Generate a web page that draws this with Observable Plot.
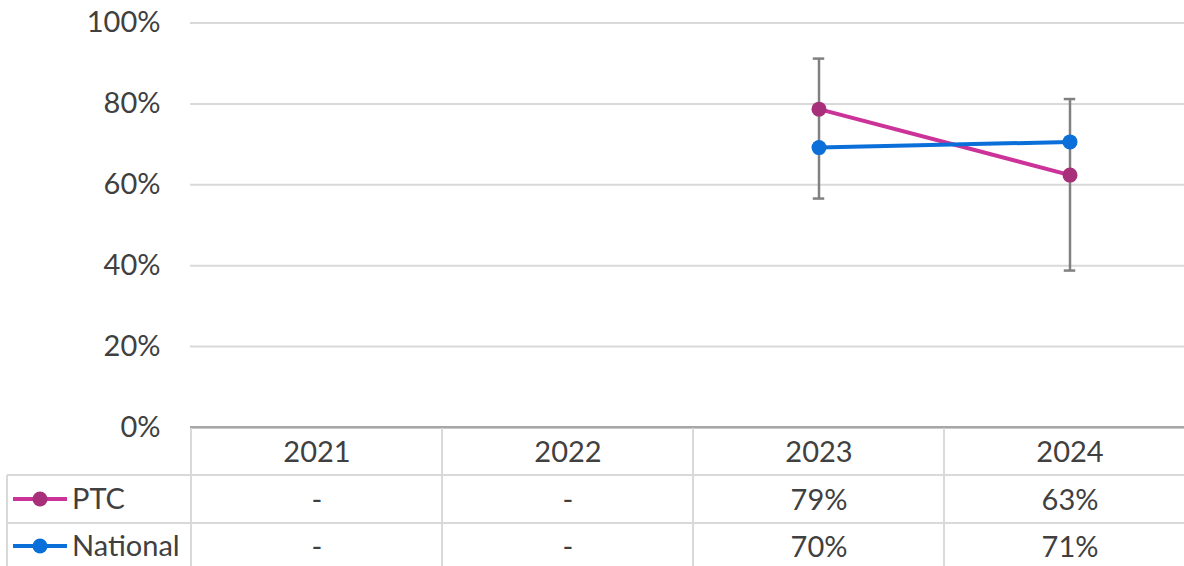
<!DOCTYPE html>
<html><head><meta charset="utf-8">
<script src="https://cdn.jsdelivr.net/npm/d3@7"></script>
<script src="https://cdn.jsdelivr.net/npm/@observablehq/plot@0.6"></script>
<style>body{margin:0;background:#fff}</style>
</head><body><div id="chart"></div>
<script>
const years = ["2021", "2022", "2023", "2024"];
const ptcValues = [null, null, 78.7, 62.4];
const ptcLow = [null, null, 56.6, 38.8];
const ptcHigh = [null, null, 91.2, 81.2];
const nationalValues = [null, null, 69.2, 70.6];
const ptcLabels = ["-", "-", "79%", "63%"];
const nationalLabels = ["-", "-", "70%", "71%"];
const yTicks = [0, 20, 40, 60, 80, 100];
const seriesNames = ["PTC", "National"];

const ptcData = years.map((y, i) => ({year: y, v: ptcValues[i], lo: ptcLow[i], hi: ptcHigh[i], label: ptcLabels[i]})).filter(d => d.v != null);
const natData = years.map((y, i) => ({year: y, v: nationalValues[i], label: nationalLabels[i]})).filter(d => d.v != null);
const ptcRow = years.map((y, i) => ({year: y, label: ptcLabels[i]}));
const natRow = years.map((y, i) => ({year: y, label: nationalLabels[i]}));

const W = 1184, H = 566;
const PTC_LINE = "#CC3399", PTC_DOT = "#A8307A";
const NAT_LINE = "#0B6FD9", NAT_DOT = "#0B6FD9";
const GRID = "#D9D9D9", TXT = "#404040";
const FS = 29;
const bandW = (1196 - 190) / 4;

const plot = Plot.plot({
  width: W, height: H,
  marginLeft: 190, marginRight: 0, marginTop: 22, marginBottom: 139,
  style: {fontFamily: "Lato, sans-serif", color: TXT, background: "#fff"},
  x: {type: "band", domain: years, range: [190, 1196], padding: 0, axis: null},
  y: {domain: [0, 100], range: [427, 22.5], axis: null},
  marks: [
    Plot.gridY(yTicks, {stroke: GRID, strokeOpacity: 1, strokeWidth: 2}),
    Plot.axisY(yTicks, {tickSize: 0, tickPadding: 30, tickFormat: d => d + "%", fontSize: FS}),
    Plot.ruleY([0], {stroke: "#A6A6A6", strokeWidth: 2}),
    Plot.ruleX(ptcData, {x: "year", y1: "lo", y2: "hi", stroke: "#808080", strokeWidth: 2.5}),
    Plot.tickY(ptcData, {x: "year", y: "hi", stroke: "#808080", strokeWidth: 2.5, insetLeft: bandW / 2 - 6, insetRight: bandW / 2 - 6}),
    Plot.tickY(ptcData, {x: "year", y: "lo", stroke: "#808080", strokeWidth: 2.5, insetLeft: bandW / 2 - 6, insetRight: bandW / 2 - 6}),
    Plot.line(ptcData, {x: "year", y: "v", stroke: PTC_LINE, strokeWidth: 4}),
    Plot.line(natData, {x: "year", y: "v", stroke: NAT_LINE, strokeWidth: 4}),
    Plot.dot(ptcData, {x: "year", y: "v", r: 7.5, fill: PTC_DOT}),
    Plot.dot(natData, {x: "year", y: "v", r: 7.5, fill: NAT_DOT}),
    Plot.text(years, {x: d => d, text: d => d, frameAnchor: "bottom", dy: 34, fontSize: FS, fill: TXT}),
    Plot.text(ptcRow, {x: "year", text: "label", frameAnchor: "bottom", dy: 82, fontSize: FS, fill: TXT}),
    Plot.text(natRow, {x: "year", text: "label", frameAnchor: "bottom", dy: 129, fontSize: FS, fill: TXT})
  ]
});
document.getElementById("chart").appendChild(plot);

// data table grid and row legends, placed from the x scale
const xs = plot.scale("x");
const svg = d3.select(plot);
const g = svg.append("g").attr("stroke", GRID).attr("stroke-width", 2);
years.forEach(y => {
  const x0 = xs.apply(y);
  g.append("line").attr("x1", x0).attr("x2", x0).attr("y1", 427).attr("y2", H);
});
g.append("line").attr("x1", 7).attr("x2", 7).attr("y1", 475).attr("y2", H);
[475, 523].forEach(yy => g.append("line").attr("x1", 7).attr("x2", W).attr("y1", yy).attr("y2", yy));
svg.append("line").attr("x1", 190).attr("x2", W).attr("y1", 427).attr("y2", 427).attr("stroke", "#A6A6A6").attr("stroke-width", 2);

const legend = [
  {name: seriesNames[0], line: PTC_LINE, dot: PTC_DOT, y: 499},
  {name: seriesNames[1], line: NAT_LINE, dot: NAT_DOT, y: 546}
];
legend.forEach(d => {
  svg.append("line").attr("x1", 13).attr("x2", 67).attr("y1", d.y).attr("y2", d.y).attr("stroke", d.line).attr("stroke-width", 4);
  svg.append("circle").attr("cx", 40).attr("cy", d.y).attr("r", 7.5).attr("fill", d.dot);
  svg.append("text").attr("x", 72).attr("y", d.y).attr("dy", "0.35em")
    .attr("text-anchor", "start").attr("font-size", FS).attr("fill", TXT).text(d.name);
});
</script>
</body></html>
